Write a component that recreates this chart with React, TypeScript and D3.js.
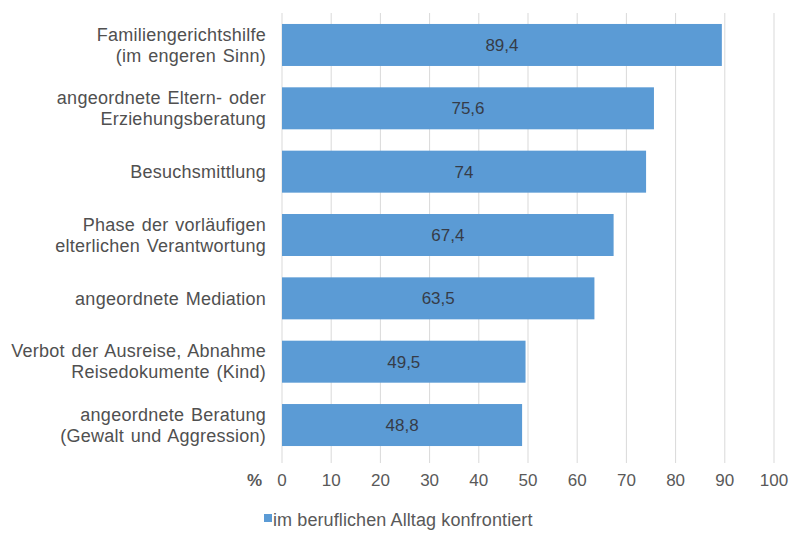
import React from "react";
import * as d3 from "d3";

const categories: string[][] = [
  ["Familiengerichtshilfe", "(im engeren Sinn)"],
  ["angeordnete Eltern- oder", "Erziehungsberatung"],
  ["Besuchsmittlung"],
  ["Phase der vorläufigen", "elterlichen Verantwortung"],
  ["angeordnete Mediation"],
  ["Verbot der Ausreise, Abnahme", "Reisedokumente (Kind)"],
  ["angeordnete Beratung", "(Gewalt und Aggression)"],
];
const values: number[] = [89.4, 75.6, 74, 67.4, 63.5, 49.5, 48.8];
const valueLabels: string[] = ["89,4", "75,6", "74", "67,4", "63,5", "49,5", "48,8"];
const ticks: number[] = [0, 10, 20, 30, 40, 50, 60, 70, 80, 90, 100];
const legendLabel = "im beruflichen Alltag konfrontiert";
const axisUnit = "%";

const W = 790;
const H = 538;
const FONT = "'Liberation Sans', Arial, sans-serif";

export default function App() {
  const x = d3.scaleLinear().domain([0, 100]).range([282, 774]);
  const idx = categories.map((_, i) => String(i));
  const y = d3.scaleBand().domain(idx).range([13.3, 456.7]).paddingInner(0.337).paddingOuter(0.1685);
  const barColor = "#5b9bd5";
  const lh = 21;

  return (
    <svg
      width={W}
      height={H}
      style={{ position: "absolute", left: 0, top: 0, background: "#fff" }}
      fontFamily={FONT}
    >
      {ticks.map((t) => (
        <line key={"g" + t} x1={x(t)} x2={x(t)} y1={13} y2={463} stroke="#d9d9d9" strokeWidth={1} />
      ))}
      {values.map((v, i) => {
        const y0 = y(String(i))!;
        const bw = y.bandwidth();
        return (
          <g key={"b" + i}>
            <rect x={x(0)} y={y0} width={x(v) - x(0)} height={bw} fill={barColor} />
            <text
              x={(x(0) + x(v)) / 2}
              y={y0 + bw / 2}
              dy="0.35em"
              textAnchor="middle"
              fontSize={17}
              fill="#363c48"
            >
              {valueLabels[i]}
            </text>
          </g>
        );
      })}
      {categories.map((lines, i) => {
        const cy = y(String(i))! + y.bandwidth() / 2;
        const n = lines.length;
        return (
          <text
            key={"c" + i}
            textAnchor="end"
            fontSize={18}
            fill="#505050"
            style={{ letterSpacing: "0.25px", wordSpacing: "1.5px" }}
          >
            {lines.map((ln, j) => (
              <tspan key={j} x={266} y={cy + (j - (n - 1) / 2) * lh} dy="0.35em">
                {ln}
              </tspan>
            ))}
          </text>
        );
      })}
      {ticks.map((t) => (
        <text key={"t" + t} x={x(t)} y={486} textAnchor="middle" fontSize={17} fill="#595959">
          {t}
        </text>
      ))}
      <text x={262} y={486} textAnchor="end" fontSize={17} fontWeight="bold" fill="#595959">
        {axisUnit}
      </text>
      <rect x={264} y={514} width={8} height={8} fill={barColor} />
      <text x={273} y={526} fontSize={18} fill="#595959" style={{ letterSpacing: "0.1px" }}>
        {legendLabel}
      </text>
    </svg>
  );
}
